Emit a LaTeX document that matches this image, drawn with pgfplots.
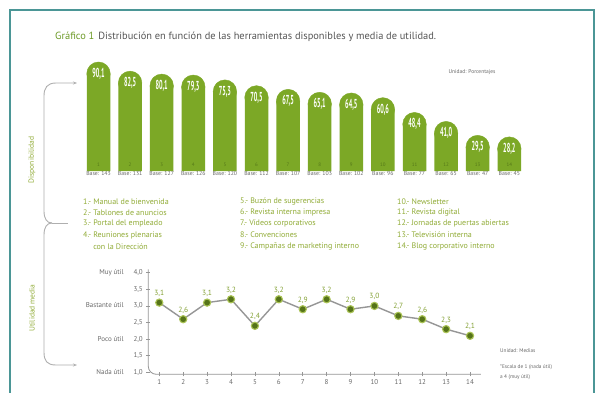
\documentclass[border=0pt]{standalone}
\usepackage{fontspec}
\setmainfont{PT Sans}
\usepackage{pgfplots}
\pgfplotsset{compat=1.18}
\usepackage{pgfplotstable}
\usetikzlibrary{arrows.meta}
\definecolor{barGreen}{RGB}{124,168,38}
\definecolor{darkGreen}{RGB}{85,120,25}
\definecolor{listGreen}{RGB}{145,172,55}
\definecolor{titleGreen}{RGB}{110,155,40}
\definecolor{titleGray}{RGB}{85,85,85}
\definecolor{txtGray}{RGB}{105,105,105}
\definecolor{frameTeal}{RGB}{75,150,150}
\definecolor{brGray}{RGB}{175,175,175}
\definecolor{lineGray}{RGB}{150,150,150}
\definecolor{markDark}{RGB}{85,115,25}
\definecolor{markRing}{RGB}{170,195,85}
\definecolor{labGreen}{RGB}{130,160,50}

\pgfplotstableread{
x v base
1 90.1 143
2 82.5 131
3 80.1 127
4 79.3 126
5 75.3 120
6 70.5 112
7 67.5 107
8 65.1 103
9 64.5 102
10 60.6 96
11 48.4 77
12 41.0 65
13 29.5 47
14 28.2 45
}\bars

\pgfplotstableread{
x m
1 3.1
2 2.6
3 3.1
4 3.2
5 2.4
6 3.2
7 2.9
8 3.2
9 2.9
10 3.0
11 2.7
12 2.6
13 2.3
14 2.1
}\media

\begin{document}
\begin{tikzpicture}
\path[use as bounding box, fill=white] (0,0) rectangle (598pt,-392pt);
\draw[frameTeal, line width=1.5pt] (10pt,-400pt) -- (10pt,-10pt) -- (594pt,-10pt) -- (594pt,-400pt);

% title
\node[anchor=west, inner sep=0pt, font=\fontsize{10.4}{12}\selectfont] at (55pt,-37pt)
  {\textcolor{titleGreen}{Gráfico 1}\hspace{4pt}\textcolor{titleGray}{Distribución en función de las herramientas disponibles y media de utilidad.}};
\node[anchor=center, inner sep=0pt, text=txtGray, font=\fontsize{5.5}{6}\selectfont] at (472pt,-72pt) {Unidad: Porcentajes};

% brackets
\draw[brGray, line width=0.9pt, {Stealth[length=4pt,width=3pt]}-] (77pt,-83pt) -- (56pt,-83pt) .. controls (47pt,-83pt) and (44pt,-88pt) .. (44pt,-96pt) -- (44pt,-211pt) .. controls (44pt,-219pt) and (47pt,-223pt) .. (52pt,-223pt);
\draw[brGray, line width=0.9pt, -{Stealth[length=4pt,width=3pt]}] (52pt,-223pt) .. controls (47pt,-223pt) and (44pt,-227pt) .. (44pt,-235pt) -- (44pt,-352pt) .. controls (44pt,-361pt) and (47pt,-365pt) .. (56pt,-365pt) -- (77pt,-365pt);
\draw[brGray, line width=0.9pt] (52pt,-223pt) -- (68pt,-223pt);
\node[rotate=90, text=listGreen, font=\fontsize{7.5}{8}\selectfont] at (32pt,-160pt) {Disponibilidad};
\node[rotate=90, text=listGreen, font=\fontsize{7.5}{8}\selectfont] at (32pt,-308pt) {Utilidad media};

% list
\begin{scope}[every node/.style={anchor=west, inner sep=0pt, text=listGreen, font=\fontsize{8}{9}\selectfont}]
\node at (83pt,-201.5pt) {1.- Manual de bienvenida};
\node at (83pt,-212.7pt) {2.- Tablones de anuncios};
\node at (83pt,-223.9pt) {3.- Portal del empleado};
\node at (83pt,-235.1pt) {4.- Reuniones plenarias};
\node at (83pt,-246.3pt) {\phantom{4.- }con la Dirección};
\node at (240pt,-201.5pt) {5.- Buzón de sugerencias};
\node at (240pt,-212.7pt) {6.- Revista interna impresa};
\node at (240pt,-223.9pt) {7.- Vídeos corporativos};
\node at (240pt,-235.1pt) {8.- Convenciones};
\node at (240pt,-246.3pt) {9.- Campañas de marketing interno};
\node at (397pt,-201.5pt) {10.- Newsletter};
\node at (397pt,-212.7pt) {11.- Revista digital};
\node at (397pt,-223.9pt) {12.- Jornadas de puertas abiertas};
\node at (397pt,-235.1pt) {13.- Televisión interna};
\node at (397pt,-246.3pt) {14.- Blog corporativo interno};
\end{scope}

% notes
\begin{scope}[every node/.style={anchor=west, inner sep=0pt, text=txtGray, font=\fontsize{5.3}{6}\selectfont}]
\node at (500pt,-351pt) {Unidad: Medias};
\node at (500pt,-367pt) {*Escala de 1 (nada útil)};
\node at (500pt,-377pt) {a 4 (muy útil)};
\end{scope}

% bar chart
\begin{axis}[at={(82.7pt,-171pt)}, anchor=south west, width=442.4pt, height=121pt, scale only axis,
  xmin=0.5, xmax=14.5, ymin=0, ymax=100, clip=false,
  axis line style={draw=none}, major tick length=0pt, ytick=\empty,
  xtick={1,...,14},
  xticklabels={Base: 143,Base: 131,Base: 127,Base: 126,Base: 120,Base: 112,Base: 107,Base: 103,Base: 102,Base: 96,Base: 77,Base: 65,Base: 47,Base: 45},
  xticklabel style={text=txtGray, font=\fontsize{5.8}{6}\selectfont, inner sep=1pt, yshift=1pt},
  /pgf/number format/.cd, use comma, fixed, fixed zerofill, precision=1, assume math mode=true]
\addplot[ybar, bar width=23.5pt, bar shift=0pt, color=barGreen, fill=barGreen, draw=none] table[x=x, y expr=\thisrow{v}-9.7]{\bars};
\addplot[color=barGreen, only marks, mark=*, mark size=11.75pt, mark options={fill=barGreen, draw=none},
  point meta=explicit, nodes near coords={\scalebox{0.62}[1.3]{\bfseries\pgfmathprintnumber{\pgfplotspointmeta}}},
  every node near coord/.style={anchor=center, text=white, font=\fontsize{10}{10}\selectfont}]
  table[x=x, y expr=\thisrow{v}-9.7, meta=v]{\bars};
\addplot[draw=none, mark=none,
  point meta=explicit symbolic, nodes near coords,
  every node near coord/.style={anchor=center, text=darkGreen, font=\fontsize{5}{6}\selectfont}]
  table[x=x, y expr=5, meta=x]{\bars};
\end{axis}

% line chart
\begin{axis}[at={(148.3pt,-374.3pt)}, anchor=south west, width=332.5pt, height=104.9pt, scale only axis,
  xmin=0.54, xmax=14.45, ymin=0.94, ymax=4.1, clip=false,
  axis lines=left, axis line style={draw=none, -},
  xtick={1,...,14}, ytick={1,1.5,2,2.5,3,3.5,4},
  xticklabels={1,2,3,4,5,6,7,8,9,10,11,12,13,14},
  yticklabels={{Nada útil\hspace{6pt}\makebox[13pt][r]{1,0}},{1,5},{Poco útil\hspace{6pt}\makebox[13pt][r]{2,0}},{2,5},{Bastante útil\hspace{6pt}\makebox[13pt][r]{3,0}},{3,5},{Muy útil\hspace{6pt}\makebox[13pt][r]{4,0}}},
  tick align=center, major tick length=4pt, tick style={lineGray, line width=0.6pt},
  ticklabel style={text=txtGray, font=\fontsize{7}{8}\selectfont},
  /pgf/number format/.cd, use comma, fixed, fixed zerofill, precision=1, assume math mode=true]
\draw[lineGray, line width=0.8pt, rounded corners=8pt] (rel axis cs:0,1) -- (rel axis cs:0,0) -- (rel axis cs:1,0);
\addplot[lineGray, line width=1.4pt, mark=*, mark size=3.6pt,
  mark options={fill=markDark, draw=markRing, line width=1.1pt},
  nodes near coords, every node near coord/.style={anchor=south, text=labGreen, yshift=2pt, font=\fontsize{7.5}{8}\selectfont}]
  table[x=x, y=m]{\media};
\end{axis}
\end{tikzpicture}
\end{document}
